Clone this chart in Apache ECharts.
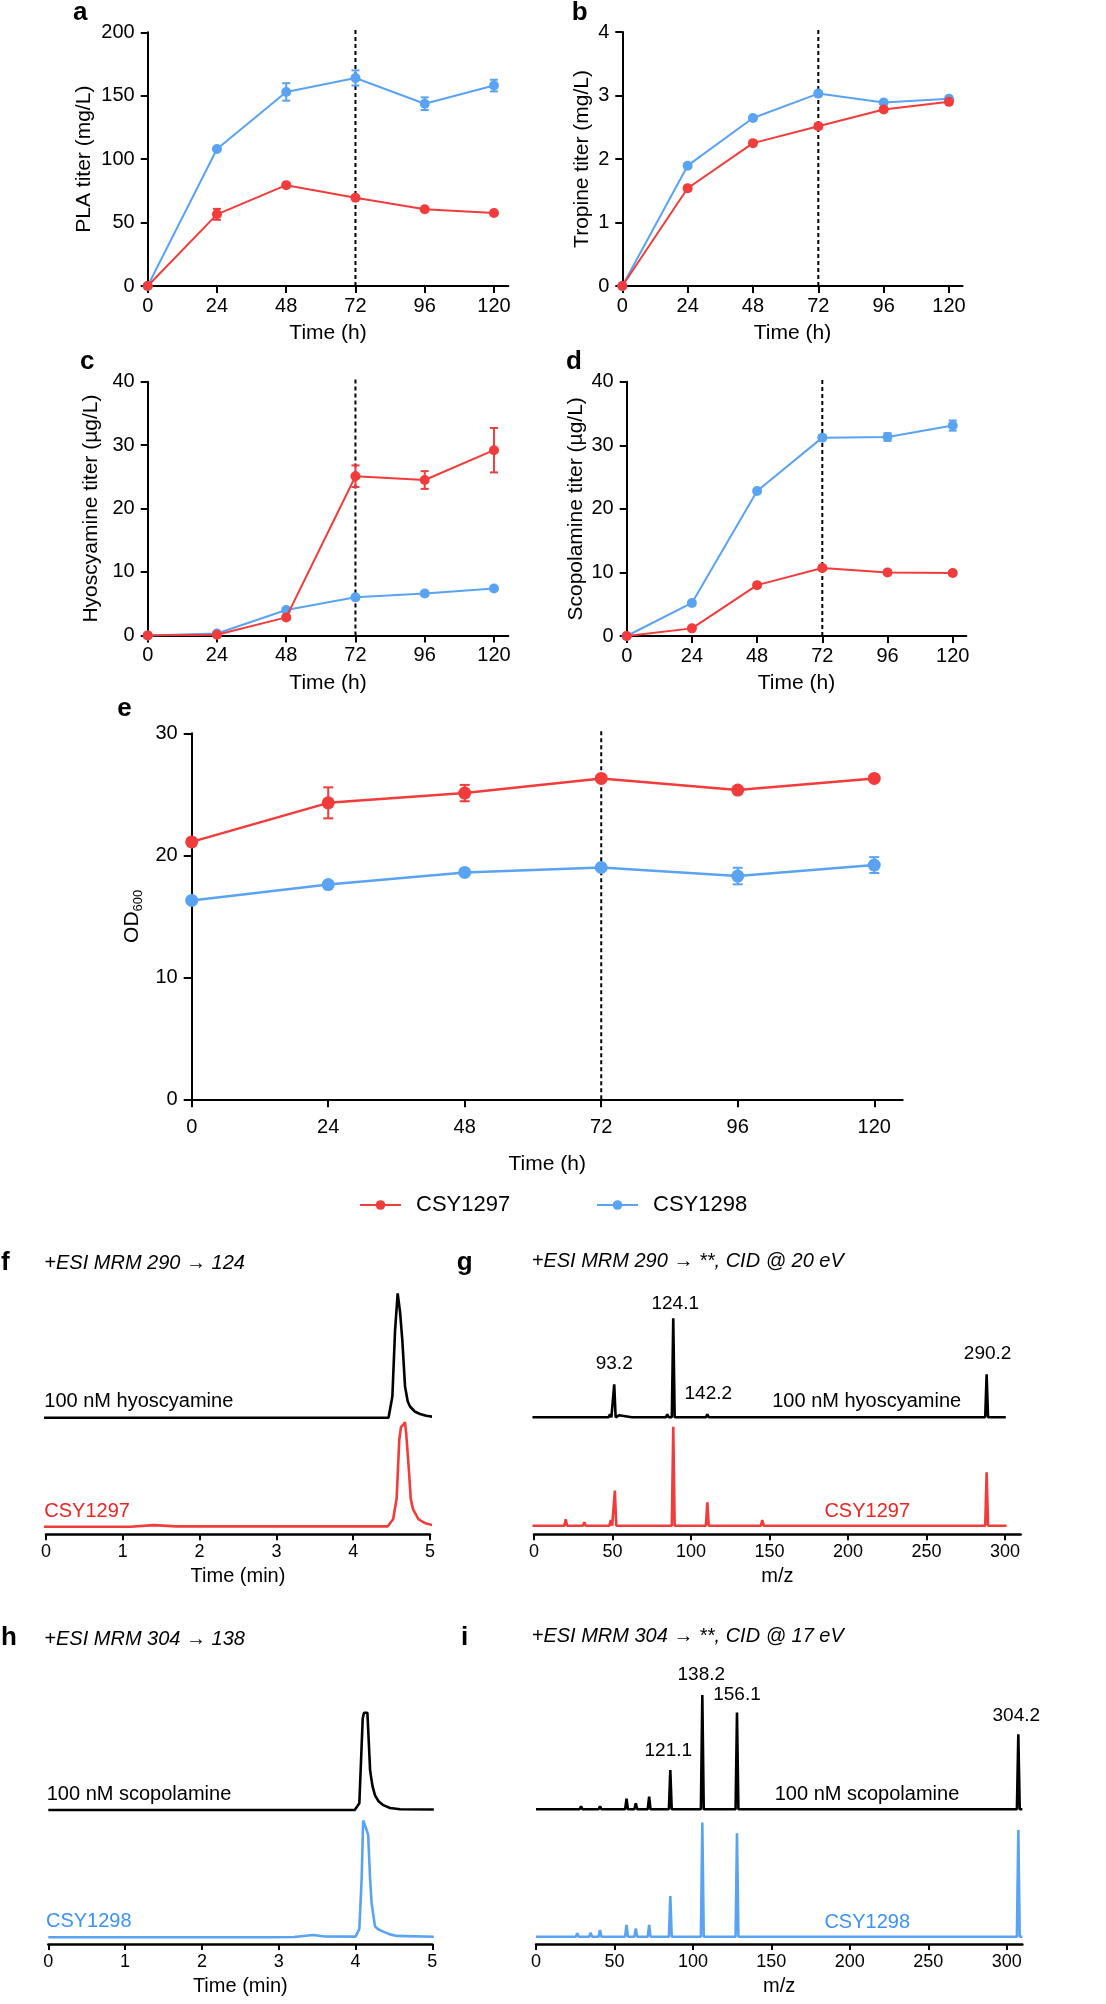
<!DOCTYPE html>
<html><head><meta charset="utf-8">
<script src="https://cdn.jsdelivr.net/npm/echarts@6/dist/echarts.min.js"></script>
<style>html,body{margin:0;padding:0;background:#fff}#c{width:1106px;height:2004px}</style>
</head><body><div id="c"></div>
<script>
// ---------- data: time courses ----------
const timeH = [0, 24, 48, 72, 96, 120];
const timeTicks = [0, 24, 48, 72, 96, 120];
const refLineTime = 72;
const seriesNames = ['CSY1297', 'CSY1298'];

const plaRed = [0, 56.5, 79.5, 69.5, 60.5, 57.5];
const plaRedErr = [0, 4.3, 1.2, 1, 1, 1];
const plaBlue = [0, 108, 153, 164, 143.7, 158];
const plaBlueErr = [0, 1.2, 6.9, 6, 5, 4.6];

const tropRed = [0, 1.54, 2.25, 2.515, 2.78, 2.9];
const tropRedErr = [0, 0.04, 0.03, 0.04, 0.03, 0.03];
const tropBlue = [0, 1.895, 2.646, 3.03, 2.89, 2.95];
const tropBlueErr = [0, 0.03, 0.03, 0.04, 0.03, 0.03];

const hyoRed = [0, 0.1, 2.84, 25.1, 24.5, 29.2];
const hyoRedErr = [0, 0.1, 0.3, 1.7, 1.4, 3.5];
const hyoBlue = [0, 0.3, 4.0, 6.0, 6.6, 7.4];
const hyoBlueErr = [0, 0.1, 0.2, 0.3, 0.3, 0.3];

const scoRed = [0, 1.2, 8.0, 10.7, 10.0, 9.9];
const scoRedErr = [0, 0.2, 0.3, 0.3, 0.3, 0.3];
const scoBlue = [0, 5.2, 22.8, 31.2, 31.3, 33.1];
const scoBlueErr = [0, 0.3, 0.3, 0.4, 0.6, 0.8];

const odRed = [21.1, 24.3, 25.1, 26.3, 25.35, 26.3];
const odRedErr = [0.2, 1.27, 0.67, 0.2, 0.2, 0.2];
const odBlue = [16.3, 17.6, 18.6, 19.0, 18.3, 19.2];
const odBlueErr = [0.2, 0.2, 0.2, 0.2, 0.68, 0.65];

// ---------- data: chromatograms [time (min), relative intensity] ----------
const minTicks = [0, 1, 2, 3, 4, 5];
const fStd = [[-0.03,0],[4.46,0],[4.51,17],[4.545,70],[4.579,100],[4.61,85],[4.64,62],[4.675,25],[4.71,13],[4.74,9],[4.8,5],[4.87,3],[4.95,1.5],[5.03,0.8]];
const fSample = [[-0.03,0],[1.1,0],[1.4,1.3],[1.7,0.3],[4.45,0.3],[4.52,6],[4.566,23],[4.6,70],[4.622,80],[4.653,82],[4.674,84],[4.69,75],[4.72,50],[4.75,22],[4.78,14],[4.85,6],[4.93,3],[5.03,1.3]];
const hStd = [[0,0],[3.99,0],[4.05,7],[4.094,94],[4.111,100],[4.155,100],[4.17,75],[4.19,41],[4.22,25],[4.254,15],[4.3,9],[4.362,5],[4.45,2],[4.58,0.7],[5.02,0.5]];
const hSample = [[0,0],[2.9,0],[3.2,0.3],[3.45,2.4],[3.6,0.8],[4.0,0.7],[4.05,8.6],[4.08,60],[4.1,120],[4.146,110],[4.165,105],[4.19,60],[4.21,35],[4.254,11],[4.3,8],[4.362,5.8],[4.45,3],[4.535,1.4],[5.02,0.5]];

// ---------- data: MS/MS spectra peaks [m/z on drawn axis, relative intensity] ----------
const mzTicks = [0, 50, 100, 150, 200, 250, 300];
const gStdPeaks = [[20.2,2],[31.4,1],[38.2,2],[48.4,3],[51.1,33.3],[54.1,2],[63.2,1],[84.9,3],[88.7,100],[110.4,3],[288.3,43.4]];
const gSamplePeaks = [[20.2,6.4],[32.1,3.4],[48.9,5.7],[51.5,35.4],[54.7,2],[88.7,100],[110.4,23.6],[145.4,5.7],[200,1],[288.3,53.9]];
const gPeakLabels = [[51.1,'93.2'],[88.7,'124.1'],[110.4,'142.2'],[288.3,'290.2']];
const iStdPeaks = [[28.7,2.6],[34.8,1.7],[40.8,2.6],[53.5,1.7],[57.7,9.3],[63.6,5.2],[72.1,11.1],[85.6,34.4],[106,100],[128.1,84.6],[307.4,65.6]];
const iSamplePeaks = [[26.3,2.9],[34.8,3.5],[40.8,5.8],[53.5,1.5],[57.7,10.2],[63.6,7.3],[72.1,10.2],[85.6,35.6],[106,100],[128.1,90.4],[182.7,1],[307.4,93.3]];
const iPeakLabels = [[85.6,'121.1'],[106,'138.2'],[128.1,'156.1'],[307.4,'304.2']];

// ---------- styles ----------
const FONT = "'Liberation Sans', Arial, Helvetica, sans-serif";
const RED = '#F23B3B';
const BLUE = '#5AA3F2';
const RED_TXT = '#EE2424';
const BLUE_TXT = '#3E92F2';

const grids = [], xAxes = [], yAxes = [], series = [];

function zip(xs, ys) { return xs.map((x, i) => [x, ys[i]]); }
function zip3(xs, ys, es) { return xs.map((x, i) => [x, ys[i], es[i]]); }

function errRender(capHalf, lw) {
  return function (params, api) {
    const x = api.value(0), y = api.value(1), e = api.value(2);
    const t = api.coord([x, y + e]), b = api.coord([x, y - e]);
    const st = { stroke: api.visual('color'), lineWidth: lw };
    return { type: 'group', children: [
      { type: 'line', shape: { x1: t[0], y1: t[1], x2: b[0], y2: b[1] }, style: st },
      { type: 'line', shape: { x1: t[0] - capHalf, y1: t[1], x2: t[0] + capHalf, y2: t[1] }, style: st },
      { type: 'line', shape: { x1: b[0] - capHalf, y1: b[1], x2: b[0] + capHalf, y2: b[1] }, style: st }
    ]};
  };
}

function axisStyle(w) { return { show: true, onZero: false, lineStyle: { color: '#000', width: w } }; }

function timePanel(o) {
  const gi = grids.length;
  grids.push({ left: o.left, top: o.top, width: o.width, height: o.height, outerBoundsMode: 'none', containLabel: false });
  xAxes.push({
    gridIndex: gi, type: 'value', min: 0, max: 125, interval: 24,
    axisLine: axisStyle(2),
    axisTick: { show: true, customValues: timeTicks, length: o.tickLen || 7, lineStyle: { color: '#000', width: 2 } },
    axisLabel: { customValues: timeTicks, margin: o.xMargin, fontSize: 20, color: '#000', fontFamily: FONT },
    splitLine: { show: false },
    name: 'Time (h)', nameLocation: 'middle', nameGap: o.xNameGap,
    nameTextStyle: { fontSize: 21, color: '#000', fontFamily: FONT }
  });
  yAxes.push({
    gridIndex: gi, type: 'value', min: 0, max: o.ymax, interval: o.yint,
    axisLine: axisStyle(2),
    axisTick: { show: true, length: o.tickLen || 7, lineStyle: { color: '#000', width: 2 } },
    axisLabel: { margin: o.yMargin || 13, fontSize: 20, color: '#000', fontFamily: FONT },
    splitLine: { show: false },
    name: o.yName, nameLocation: 'middle', nameGap: o.yNameGap,
    nameTextStyle: Object.assign({ fontSize: 21, color: '#000', fontFamily: FONT }, o.yNameStyle || {})
  });
  const sz = o.symbolSize || 10, lw = o.lineWidth || 2;
  series.push({
    type: 'line', name: 'ref' + gi, xAxisIndex: gi, yAxisIndex: gi,
    data: [[refLineTime, 0], [refLineTime, o.ymax * 1.013]],
    symbol: 'none', showSymbol: false, clip: false, silent: true, animation: false,
    lineStyle: { type: [4, 3], color: '#000', width: 2 }, z: 1
  });
  series.push({
    type: 'line', name: seriesNames[1], xAxisIndex: gi, yAxisIndex: gi, data: zip(timeH, o.blue),
    symbol: 'circle', symbolSize: sz, lineStyle: { width: lw, color: BLUE }, itemStyle: { color: BLUE }, z: 2,
    animation: false
  });
  series.push({
    type: 'line', name: seriesNames[0], xAxisIndex: gi, yAxisIndex: gi, data: zip(timeH, o.red),
    symbol: 'circle', symbolSize: sz, lineStyle: { width: lw, color: RED }, itemStyle: { color: RED }, z: 3,
    animation: false
  });
  series.push({ type: 'custom', name: 'errB' + gi, xAxisIndex: gi, yAxisIndex: gi, data: zip3(timeH, o.blue, o.blueErr),
    renderItem: errRender(o.cap || 4, 2), itemStyle: { color: BLUE }, z: 2, animation: false });
  series.push({ type: 'custom', name: 'errR' + gi, xAxisIndex: gi, yAxisIndex: gi, data: zip3(timeH, o.red, o.redErr),
    renderItem: errRender(o.cap || 4, 2), itemStyle: { color: RED }, z: 3, animation: false });
}

timePanel({ left: 147.7, top: 32.3, width: 360.7, height: 253.7, ymax: 200, yint: 50,
  yName: 'PLA titer (mg/L)', yNameGap: 53, xMargin: 10, xNameGap: 37,
  red: plaRed, redErr: plaRedErr, blue: plaBlue, blueErr: plaBlueErr });
timePanel({ left: 622.3, top: 32, width: 340.3, height: 254, ymax: 4, yint: 1,
  yName: 'Tropine titer (mg/L)', yNameGap: 30, xMargin: 10, xNameGap: 37,
  red: tropRed, redErr: tropRedErr, blue: tropBlue, blueErr: tropBlueErr });
timePanel({ left: 147.7, top: 381.7, width: 360.7, height: 253.7, ymax: 40, yint: 10,
  yName: 'Hyoscyamine titer (µg/L)', yNameGap: 46, xMargin: 10, xNameGap: 37,
  red: hyoRed, redErr: hyoRedErr, blue: hyoBlue, blueErr: hyoBlueErr });
timePanel({ left: 626.7, top: 381.7, width: 339.6, height: 254.3, ymax: 40, yint: 10,
  yName: 'Scopolamine titer (µg/L)', yNameGap: 40, xMargin: 10, xNameGap: 37,
  red: scoRed, redErr: scoRedErr, blue: scoBlue, blueErr: scoBlueErr });
timePanel({ left: 191.7, top: 733.3, width: 711, height: 366, ymax: 30, yint: 10,
  yName: '{a|OD}{b|600}', yNameGap: 45, xMargin: 18, xNameGap: 54, yMargin: 14, tickLen: 8,
  yNameStyle: { rich: { a: { fontSize: 21, fontFamily: FONT, color: '#000', lineHeight: 24 },
                        b: { fontSize: 13, fontFamily: FONT, color: '#000', lineHeight: 13, verticalAlign: 'bottom' } } },
  symbolSize: 13, lineWidth: 2.5, cap: 5,
  red: odRed, redErr: odRedErr, blue: odBlue, blueErr: odBlueErr });

// ---------- chromatogram / spectrum panels ----------
function stickTrace(peaks, xStart, xEnd, w) {
  const pts = [[xStart, 0]];
  peaks.slice().sort((a, b) => a[0] - b[0]).forEach(p => { pts.push([p[0] - w, 0], [p[0], p[1]], [p[0] + w, 0]); });
  pts.push([xEnd, 0]);
  return pts;
}

const TRACE_W = 2.6;
function tracePanel(o) {
  const g1 = grids.length;
  grids.push({ left: o.left, top: o.topStd, width: o.width, height: o.hStd, outerBoundsMode: 'none', containLabel: false });
  xAxes.push({ gridIndex: g1, type: 'value', min: 0, max: o.xmax, show: false });
  yAxes.push({ gridIndex: g1, type: 'value', min: 0, max: 100, show: false });
  const g2 = grids.length;
  grids.push({ left: o.left, top: o.topSmp, width: o.width, height: o.hSmp, outerBoundsMode: 'none', containLabel: false });
  xAxes.push({
    gridIndex: g2, type: 'value', min: 0, max: o.xmax, interval: o.xint,
    axisLine: axisStyle(2.5),
    axisTick: { show: true, customValues: o.ticks, length: 6, lineStyle: { color: '#000', width: 2 } },
    axisLabel: { customValues: o.ticks, margin: 9, fontSize: 18, color: '#000', fontFamily: FONT },
    splitLine: { show: false },
    name: o.xName, nameLocation: 'middle', nameGap: 32,
    nameTextStyle: { fontSize: 20, color: '#000', fontFamily: FONT }
  });
  yAxes.push({ gridIndex: g2, type: 'value', min: o.ySmpMin, max: o.ySmpMax, show: false });
  const stdSeries = { type: 'line', name: o.id + 'std', xAxisIndex: g1, yAxisIndex: g1, data: o.std,
    showSymbol: false, symbol: 'none', clip: false, silent: true, animation: false,
    lineStyle: { width: TRACE_W, color: '#000' }, z: 2 };
  if (o.labels) {
    stdSeries.markPoint = {
      symbol: 'circle', symbolSize: 1, silent: true, animation: false,
      itemStyle: { color: 'rgba(0,0,0,0)' },
      label: { show: true, position: 'inside', color: '#000', fontSize: 19, fontFamily: FONT, formatter: p => p.name },
      data: o.labels.map((l, k) => {
        const pk = o.stdPeaks.find(p => p[0] === l[0]);
        return { name: l[1], coord: [l[0], pk[1]], label: { offset: o.labelOffsets[k] } };
      })
    };
  }
  series.push(stdSeries);
  series.push({ type: 'line', name: o.id + 'smp', xAxisIndex: g2, yAxisIndex: g2, data: o.smp,
    showSymbol: false, symbol: 'none', clip: false, silent: true, animation: false,
    lineStyle: { width: TRACE_W, color: o.color }, z: 2 });
}

tracePanel({ id: 'f', left: 46, width: 384, topStd: 1293.3, hStd: 124.4, topSmp: 1402.3, hSmp: 132,
  xmax: 5, xint: 1, ticks: minTicks, xName: 'Time (min)', ySmpMin: -6.1, ySmpMax: 100,
  std: fStd, smp: fSample, color: RED });
tracePanel({ id: 'g', left: 534, width: 486.7, topStd: 1318.3, hStd: 99, topSmp: 1426.7, hSmp: 107.6,
  xmax: 310, xint: 50, ticks: mzTicks, xName: 'm/z', ySmpMin: -8.7, ySmpMax: 100,
  std: stickTrace(gStdPeaks, -1, 300.5, 0.9), smp: stickTrace(gSamplePeaks, -1, 301, 0.9), color: RED,
  stdPeaks: gStdPeaks, labels: gPeakLabels, labelOffsets: [[0, -21], [2, -15], [1, -21], [1, -21]] });
tracePanel({ id: 'h', left: 48.3, width: 384, topStd: 1712.7, hStd: 97.3, topSmp: 1820.5, hSmp: 123.5,
  xmax: 5, xint: 1, ticks: minTicks, xName: 'Time (min)', ySmpMin: -6.9, ySmpMax: 120,
  std: hStd, smp: hSample, color: BLUE });
tracePanel({ id: 'i', left: 536, width: 486.4, topStd: 1695, hStd: 114.3, topSmp: 1822.4, hSmp: 121.6,
  xmax: 310, xint: 50, ticks: mzTicks, xName: 'm/z', ySmpMin: -6.4, ySmpMax: 100,
  std: stickTrace(iStdPeaks, 0, 310, 0.9), smp: stickTrace(iSamplePeaks, 0, 310, 0.9), color: BLUE,
  stdPeaks: iStdPeaks, labels: iPeakLabels, labelOffsets: [[-2, -19], [-1, -20], [0, -18], [-2, -19]] });

// ---------- text annotations ----------
function txt(s, x, y, opt) {
  opt = opt || {};
  const size = opt.size || 20;
  const font = (opt.italic ? 'italic ' : '') + (opt.bold ? 'bold ' : '') + size + 'px ' + FONT;
  return { type: 'text', x: x, y: y, silent: true, z: 10,
    style: { text: s, font: font, fill: opt.color || '#000',
      align: opt.align || 'left', verticalAlign: 'middle', textAlign: opt.align || 'left', textVerticalAlign: 'middle' } };
}
const letterOpt = { bold: true, size: 26 };
const graphics = [
  txt('a', 73, 12.5, letterOpt), txt('b', 571.7, 12.5, letterOpt),
  txt('c', 80, 361.5, letterOpt), txt('d', 566, 361.5, letterOpt),
  txt('e', 117.3, 709, letterOpt),
  txt('f', 1, 1262.5, letterOpt), txt('g', 456.7, 1262.5, letterOpt),
  txt('h', 1, 1637.5, letterOpt), txt('i', 461, 1637.5, letterOpt),
  txt('+ESI MRM 290 \u2192 124', 44.3, 1263.3, { italic: true }),
  txt('+ESI MRM 290 \u2192 **, CID @ 20 eV', 531.7, 1261.7, { italic: true }),
  txt('+ESI MRM 304 \u2192 138', 44.3, 1639.2, { italic: true }),
  txt('+ESI MRM 304 \u2192 **, CID @ 17 eV', 531.7, 1636.7, { italic: true }),
  txt('100 nM hyoscyamine', 44.3, 1401.3),
  txt('CSY1297', 44.3, 1511.2, { color: RED_TXT }),
  txt('100 nM hyoscyamine', 866.7, 1401.7, { align: 'center' }),
  txt('CSY1297', 867.2, 1511.2, { align: 'center', color: RED_TXT }),
  txt('100 nM scopolamine', 46.7, 1794.2),
  txt('CSY1298', 46, 1921.8, { color: BLUE_TXT }),
  txt('100 nM scopolamine', 867, 1794.8, { align: 'center' }),
  txt('CSY1298', 867.2, 1922.2, { align: 'center', color: BLUE_TXT })
];

const legendBase = { orient: 'horizontal', top: 1192, padding: 0, itemWidth: 41, itemHeight: 12, selectedMode: false,
  textStyle: { fontSize: 22, color: '#000', fontFamily: FONT, lineHeight: 26, padding: [0, 0, 0, 10] } };

const chart = echarts.init(document.getElementById('c'), null, { renderer: 'canvas', width: 1106, height: 2004 });
chart.setOption({
  backgroundColor: '#fff',
  animation: false,
  textStyle: { fontFamily: FONT },
  legend: [
    Object.assign({}, legendBase, { left: 359, data: [seriesNames[0]] }),
    Object.assign({}, legendBase, { left: 596, data: [seriesNames[1]] })
  ],
  grid: grids, xAxis: xAxes, yAxis: yAxes, series: series,
  graphic: graphics
});
</script></body></html>
